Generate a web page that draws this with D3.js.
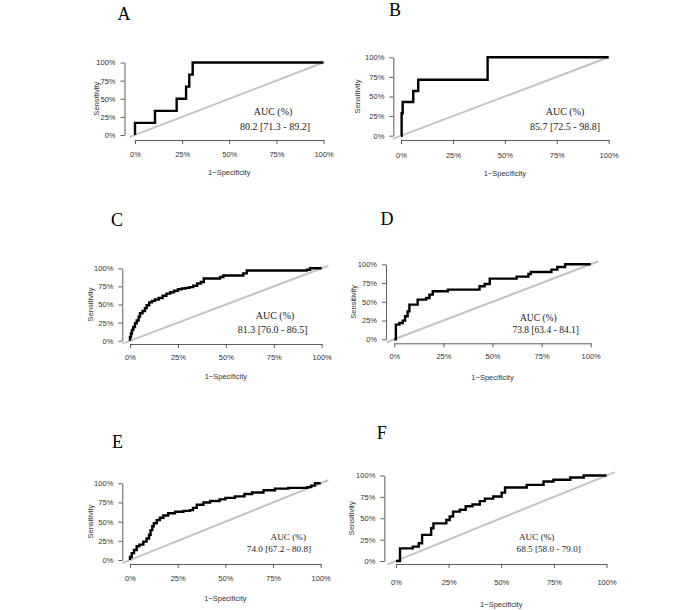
<!DOCTYPE html>
<html>
<head>
<meta charset="utf-8">
<script src="https://cdn.jsdelivr.net/npm/d3@7"></script>
<style>
  body { margin: 0; background: #fff; }
  svg { display: block; }
  .tick text { font-family: "Liberation Sans", Arial, sans-serif; font-size: 7.5px; fill: #333; }
  .domain, .tick line { stroke: #333; stroke-width: 0.8; }
</style>
</head>
<body>
<div id="chart"></div>
<script>
// tick values / labels shared by all panels
const tickVals = [0, 0.25, 0.5, 0.75, 1];
const tickLabels = ["0%", "25%", "50%", "75%", "100%"];

const panelNames = ["A", "B", "C", "D", "E", "F"];
const aucLabels = ["80.2 [71.3 - 89.2]", "85.7 [72.5 - 98.8]", "81.3 [76.0 - 86.5]",
                   "73.8 [63.4 - 84.1]", "74.0 [67.2 - 80.8]", "68.5 [58.0 - 79.0]"];

// ROC corners (1-specificity, sensitivity)
const aFpr = [0, 0, 0.106, 0.221, 0.271, 0.288, 0.306, 1];
const aSens = [0, 0.167, 0.333, 0.5, 0.667, 0.833, 1, 1];

const bFpr = [0, 0.003, 0.008, 0.059, 0.083, 0.417, 1];
const bSens = [0, 0.286, 0.429, 0.571, 0.714, 1, 1];

const cFpr = [0, 0, 0.005, 0.01, 0.017, 0.026, 0.035, 0.045, 0.052, 0.065, 0.078, 0.087, 0.1, 0.115, 0.13,
              0.15, 0.17, 0.19, 0.21, 0.23, 0.25, 0.27, 0.29, 0.31, 0.33, 0.35, 0.37, 0.385, 0.47, 0.487,
              0.591, 0.609, 0.922, 0.939, 1];
const cSens = [0, 0.05, 0.1, 0.15, 0.19, 0.24, 0.28, 0.33, 0.38, 0.41, 0.45, 0.49, 0.53, 0.55, 0.57,
               0.59, 0.62, 0.65, 0.67, 0.69, 0.71, 0.72, 0.73, 0.74, 0.76, 0.79, 0.81, 0.86, 0.88, 0.9,
               0.93, 0.97, 0.98, 1, 1];

const dFpr = [0, 0.008, 0.026, 0.043, 0.055, 0.068, 0.077, 0.119, 0.162, 0.179, 0.196, 0.273, 0.434,
              0.46, 0.486, 0.623, 0.683, 0.695, 0.8, 0.83, 0.87, 1];
const dSens = [0, 0.196, 0.218, 0.249, 0.307, 0.373, 0.462, 0.529, 0.551, 0.596, 0.64, 0.662, 0.707,
               0.738, 0.809, 0.836, 0.87, 0.898, 0.929, 0.964, 1, 1];

const eFpr = [0, 0, 0.009, 0.021, 0.035, 0.049, 0.07, 0.087, 0.1, 0.108, 0.117, 0.125, 0.14, 0.157, 0.175,
              0.2, 0.236, 0.28, 0.315, 0.33, 0.35, 0.385, 0.42, 0.47, 0.5, 0.55, 0.6, 0.64, 0.7, 0.76,
              0.83, 0.93, 0.95, 0.97, 1];
const eSens = [0, 0.04, 0.09, 0.13, 0.18, 0.2, 0.24, 0.28, 0.33, 0.39, 0.44, 0.48, 0.52, 0.55, 0.58,
               0.61, 0.63, 0.64, 0.65, 0.68, 0.72, 0.75, 0.77, 0.79, 0.81, 0.83, 0.86, 0.88, 0.91, 0.93,
               0.94, 0.95, 0.97, 1, 1];

const fFpr = [0, 0.019, 0.08, 0.108, 0.124, 0.167, 0.178, 0.239, 0.255, 0.271, 0.303, 0.331, 0.363,
              0.398, 0.422, 0.462, 0.502, 0.518, 0.621, 0.701, 0.748, 0.828, 0.892, 1];
const fSens = [0, 0.148, 0.168, 0.207, 0.305, 0.383, 0.44, 0.48, 0.52, 0.578, 0.6, 0.64, 0.66,
               0.7, 0.73, 0.754, 0.8, 0.86, 0.89, 0.93, 0.95, 0.977, 1, 1];

const curves = [[aFpr, aSens], [bFpr, bSens], [cFpr, cSens], [dFpr, dSens], [eFpr, eSens], [fFpr, fSens]];

// where each panel sits on the page (pixels)
const layout = [
  { x0: 135, x1: 323.5, yb: 135, yt: 62.5, axX: 124.5, axY: 140, labY: 14, sensX: 96, specY: 172,
    auc: [273, 111.7], val: [275, 126.7], letter: [124, 20], diag: [-0.03, 1], aucSize: 10 },
  { x0: 401, x1: 608.7, yb: 135.7, yt: 57.3, axX: 393.3, axY: 140, labY: 15, sensX: 357, specY: 173.3,
    auc: [565, 111.7], val: [565, 126.7], letter: [395, 16], diag: [-0.04, 1], aucSize: 10 },
  { x0: 130, x1: 321.7, yb: 340.7, yt: 268.3, axX: 122.3, axY: 344, labY: 13.5, sensX: 90, specY: 376.7,
    auc: [275, 315], val: [272.7, 329.3], letter: [117, 226], diag: [-0.04, 1.035], aucSize: 10 },
  { x0: 394.3, x1: 590.7, yb: 339.3, yt: 264.3, axX: 386, axY: 343.3, labY: 13.5, sensX: 353.3, specY: 377.7,
    auc: [538.3, 317.7], val: [545.7, 330], letter: [387, 225], diag: [-0.04, 1.04], aucSize: 9.5 },
  { x0: 130, x1: 320.7, yb: 560, yt: 483.3, axX: 122.3, axY: 564, labY: 14.3, sensX: 90, specY: 598.3,
    auc: [288.3, 536.7], val: [279, 549], letter: [117.5, 448], diag: [-0.04, 1.04], aucSize: 9.2 },
  { x0: 396, x1: 606.5, yb: 561, yt: 475.5, axX: 384.3, axY: 564, labY: 18.5, sensX: 351.7, specY: 604.3,
    auc: [536.7, 536.7], val: [548.7, 548.3], letter: [381.7, 439], diag: [-0.04, 1.04], aucSize: 9.2 }
];

const svg = d3.select("#chart").append("svg")
  .attr("width", 700)
  .attr("height", 610);

layout.forEach((p, i) => {
  const g = svg.append("g");
  const x = d3.scaleLinear().domain([0, 1]).range([p.x0, p.x1]);
  const y = d3.scaleLinear().domain([0, 1]).range([p.yb, p.yt]);

  // panel letter
  g.append("text")
    .attr("x", p.letter[0])
    .attr("y", p.letter[1])
    .attr("text-anchor", "middle")
    .style("font-family", "'Liberation Serif', 'Times New Roman', serif")
    .style("font-size", "18px")
    .text(panelNames[i]);

  // axes
  const xAxis = d3.axisBottom(x).tickValues(tickVals)
    .tickFormat((d, k) => tickLabels[k]).tickSize(4).tickSizeOuter(0)
    .tickPadding(p.labY - 6.7);
  g.append("g").attr("transform", `translate(0,${p.axY})`).call(xAxis);

  const yAxis = d3.axisLeft(y).tickValues(tickVals)
    .tickFormat((d, k) => tickLabels[k]).tickSize(4).tickSizeOuter(0).tickPadding(5);
  g.append("g").attr("transform", `translate(${p.axX},0)`).call(yAxis);

  g.append("text")
    .attr("transform", `translate(${p.sensX},${(p.yb + p.yt) / 2}) rotate(-90)`)
    .attr("text-anchor", "middle")
    .attr("dy", "0.35em")
    .style("font-family", "'Liberation Sans', Arial, sans-serif")
    .style("font-size", "7.5px")
    .style("fill", "#333")
    .text("Sensitivity");

  g.append("text")
    .attr("x", (p.x0 + p.x1) / 2)
    .attr("y", p.specY)
    .attr("dy", "0.35em")
    .attr("text-anchor", "middle")
    .style("font-family", "'Liberation Sans', Arial, sans-serif")
    .style("font-size", "7.5px")
    .style("fill", "#333")
    .text("1\u2212Specificity");

  // reference diagonal
  g.append("line")
    .attr("x1", x(p.diag[0])).attr("y1", y(p.diag[0]))
    .attr("x2", x(p.diag[1])).attr("y2", y(p.diag[1]))
    .attr("stroke", "#c4c4c4")
    .attr("stroke-width", 2);

  // ROC curve
  const [fpr, sens] = curves[i];
  const pts = fpr.map((f, k) => [f, sens[k]]);
  const line = d3.line()
    .x(d => x(d[0]))
    .y(d => y(d[1]))
    .curve(d3.curveStepAfter);
  g.append("path")
    .datum(pts)
    .attr("d", line)
    .attr("fill", "none")
    .attr("stroke", "#000")
    .attr("stroke-width", 2.4);

  // AUC annotation
  g.append("text")
    .attr("x", p.auc[0]).attr("y", p.auc[1]).attr("dy", "0.35em")
    .attr("text-anchor", "middle")
    .style("font-family", "'Liberation Serif', 'Times New Roman', serif")
    .style("font-size", p.aucSize + "px")
    .style("fill", "#222")
    .text("AUC (%)");

  g.append("text")
    .attr("x", p.val[0]).attr("y", p.val[1]).attr("dy", "0.35em")
    .attr("text-anchor", "middle")
    .style("font-family", "'Liberation Serif', 'Times New Roman', serif")
    .style("font-size", p.aucSize + "px")
    .style("fill", "#222")
    .text(aucLabels[i]);
});
</script>
</body>
</html>
